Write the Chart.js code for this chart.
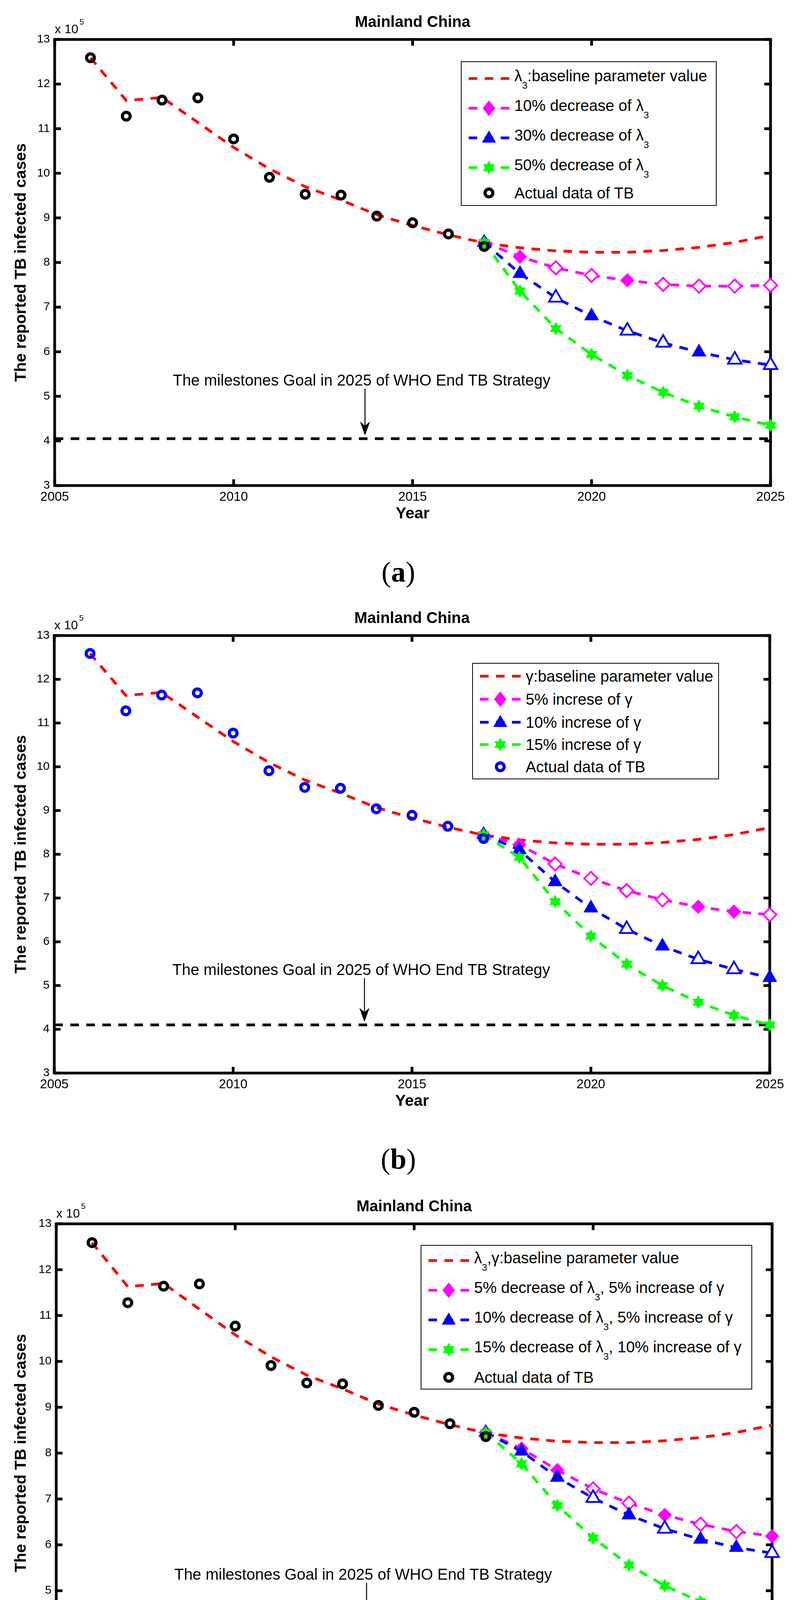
<!DOCTYPE html>
<html lang="en">
<head>
<meta charset="UTF-8">
<title>Mainland China - TB infected cases</title>
<script src="https://cdn.jsdelivr.net/npm/chart.js"></script>
<style>
  html, body { margin: 0; padding: 0; background: #fff; }
  body { position: relative; width: 2051px; height: 4610px; overflow: hidden;
         font-family: "Liberation Sans", Arial, Helvetica, sans-serif; color: #000; }
  .panel { position: absolute; left: 0; width: 2051px; height: 1400px; }
  .legend { position: absolute; background: #fff; border: 2px solid #000; box-sizing: border-box; }
  .legend svg { position: absolute; overflow: visible; }
  .legend .txt { position: absolute; white-space: nowrap; font-size: 40px; line-height: 40px; }
  .legend sub { font-size: 24px; vertical-align: -19px; line-height: 0; }
  .caption { position: absolute; width: 300px; text-align: center;
             font-family: "Liberation Serif", "Times New Roman", serif; font-size: 74px; line-height: 74px; }
</style>
</head>
<body>
  <div class="panel" id="panelA"><canvas></canvas></div>
  <div class="panel" id="panelB"><canvas></canvas></div>
  <div class="panel" id="panelC"><canvas></canvas></div>
  <div class="caption" style="left:870px; top:1427px">(<b>a</b>)</div>
  <div class="caption" style="left:870px; top:2930px">(<b>b</b>)</div>
  <div class="caption" style="left:870px; top:4490px">(<b>c</b>)</div>

<script>
// ---- data (values x 10^5) ----
const YEARS_ACTUAL = [2006, 2007, 2008, 2009, 2010, 2011, 2012, 2013, 2014, 2015, 2016, 2017];
const YEARS_MODEL  = [2006, 2007, 2008, 2009, 2010, 2011, 2012, 2013, 2014, 2015,
                      2016, 2017, 2018, 2019, 2020, 2021, 2022, 2023, 2024, 2025];
const YEARS_PROJ   = [2017, 2018, 2019, 2020, 2021, 2022, 2023, 2024, 2025];

const ACTUAL_TB = [12.59, 11.28, 11.64, 11.69, 10.77, 9.91, 9.53, 9.51, 9.04, 8.89, 8.64, 8.36];
const BASELINE  = [12.59, 11.63, 11.70, 11.14, 10.58, 10.10, 9.70, 9.40, 9.07, 8.83,
                   8.62, 8.44, 8.33, 8.26, 8.23, 8.23, 8.27, 8.34, 8.45, 8.61];

// (a) decrease of lambda3
const A_DEC10 = [8.45, 8.13, 7.88, 7.71, 7.60, 7.51, 7.47, 7.47, 7.49];
const A_DEC30 = [8.45, 7.75, 7.21, 6.80, 6.47, 6.20, 5.99, 5.82, 5.70];
const A_DEC50 = [8.45, 7.36, 6.52, 5.94, 5.47, 5.09, 4.78, 4.54, 4.35];
// (b) increase of gamma
const B_INC5  = [8.45, 8.22, 7.78, 7.45, 7.17, 6.96, 6.80, 6.69, 6.62];
const B_INC10 = [8.45, 8.10, 7.37, 6.77, 6.29, 5.90, 5.60, 5.37, 5.18];
const B_INC15 = [8.45, 7.93, 6.92, 6.13, 5.49, 5.00, 4.62, 4.32, 4.10];
// (c) combined
const C_MIX1 = [8.45, 8.10, 7.63, 7.22, 6.91, 6.65, 6.45, 6.29, 6.19];
const C_MIX2 = [8.45, 8.04, 7.47, 7.02, 6.65, 6.35, 6.12, 5.94, 5.82];
const C_MIX3 = [8.45, 7.77, 6.86, 6.15, 5.56, 5.11, 4.76, 4.48, 4.28];

// WHO End TB milestone line, one per panel
const GOAL_A = 4.05;
const GOAL_B = 4.10;
const GOAL_C = 4.14;

// axis ranges
const X_MIN = 2005, X_MAX = 2025, X_STEP = 5;
const Y_MIN = 3, Y_MAX = 13, Y_STEP = 1;

// legend texts
const LEGEND_A = ['&lambda;<sub>3</sub>:baseline parameter value', '10% decrease of &lambda;<sub>3</sub>',
                  '30% decrease of &lambda;<sub>3</sub>', '50% decrease of &lambda;<sub>3</sub>', 'Actual data of TB'];
const LEGEND_B = ['&gamma;:baseline parameter value', '5% increse of &gamma;', '10% increse of &gamma;',
                  '15% increse of &gamma;', 'Actual data of TB'];
const LEGEND_C = ['&lambda;<sub>3</sub>,&gamma;:baseline parameter value',
                  '5% decrease of &lambda;<sub>3</sub>, 5% increase of &gamma;',
                  '10% decrease of &lambda;<sub>3</sub>, 5% increase of &gamma;',
                  '15% decrease of &lambda;<sub>3</sub>, 10% increase of &gamma;', 'Actual data of TB'];

// annotation text + arrow (data units)
const NOTE_TEXT = 'The milestones Goal in 2025 of WHO End TB Strategy';
const NOTE_X = 2008.3, NOTE_Y = 5.24;
const ARROW_X = 2013.67, ARROW_TOP = 5.17;

// which projected markers look hollow in the picture (1 = open)
const OPEN_A_DIAMOND = [0, 0, 1, 1, 0, 1, 1, 1, 1];
const OPEN_A_TRI     = [0, 0, 1, 0, 1, 1, 0, 1, 1];
const OPEN_B_DIAMOND = [0, 0, 1, 1, 1, 1, 0, 0, 1];
const OPEN_B_TRI     = [0, 0, 0, 0, 1, 0, 1, 1, 0];
const OPEN_C_DIAMOND = [0, 0, 0, 1, 1, 0, 1, 1, 0];
const OPEN_C_TRI     = [0, 0, 0, 1, 0, 1, 0, 0, 1];

// ---- styling ----
const FONT = "'Liberation Sans', Arial, Helvetica, sans-serif";
const RED = '#ff0000', MAGENTA = '#ff00ff', BLUE = '#0000ff', GREEN = '#00ff00', BLACK = '#000000';
const PAGE_W = 2051;
const CANVAS_H = 1400;
const TOP_SPACE = 101;   // room above the axes box (title, x10^5)
const DASH = [22, 19];
const TICK_LEN = 16;

Chart.defaults.font.family = FONT;
Chart.defaults.color = BLACK;

function xy(xs, ys) {
    return xs.map((x, i) => ({ x: x, y: ys[i] }));
}

// six pointed star marker (matlab 'hexagram')
function hexagram(color, R) {
    const size = Math.ceil(2 * R + 4);
    const c = document.createElement('canvas');
    c.width = c.height = size;
    const g = c.getContext('2d');
    g.fillStyle = color;
    [-90, 90].forEach(start => {
        g.beginPath();
        for (let k = 0; k < 3; k++) {
            const a = (start + k * 120) * Math.PI / 180;
            const px = size / 2 + R * Math.cos(a), py = size / 2 + R * Math.sin(a);
            if (k === 0) g.moveTo(px, py); else g.lineTo(px, py);
        }
        g.closePath();
        g.fill();
    });
    return c;
}
const STAR_IMG = hexagram(GREEN, 17.5);

// frame with inward ticks, x10^5 label, goal annotation
const matlabFrame = {
    id: 'matlabFrame',
    beforeDatasetsDraw(chart) {
        const { ctx, chartArea: a, scales: { x, y } } = chart;
        ctx.save();
        ctx.strokeStyle = BLACK;
        ctx.lineWidth = 7;
        ctx.strokeRect(a.left, a.top, a.right - a.left, a.bottom - a.top);
        ctx.beginPath();
        y.ticks.forEach(t => {
            const py = y.getPixelForValue(t.value);
            ctx.moveTo(a.left, py);  ctx.lineTo(a.left + TICK_LEN, py);
            ctx.moveTo(a.right, py); ctx.lineTo(a.right - TICK_LEN, py);
        });
        x.ticks.forEach(t => {
            const px = x.getPixelForValue(t.value);
            ctx.moveTo(px, a.bottom); ctx.lineTo(px, a.bottom - TICK_LEN);
            ctx.moveTo(px, a.top);    ctx.lineTo(px, a.top + TICK_LEN);
        });
        ctx.stroke();
        ctx.restore();
    },
    afterDatasetsDraw(chart, args, opts) {
        const { ctx, chartArea: a, scales: { x, y } } = chart;
        ctx.save();
        ctx.fillStyle = BLACK;
        ctx.textAlign = 'left';
        ctx.textBaseline = 'alphabetic';

        // exponent above the y axis
        ctx.font = '32px ' + FONT;
        ctx.fillText('x 10', a.left, a.top - 16);
        const w = ctx.measureText('x 10').width;
        ctx.font = '21px ' + FONT;
        ctx.fillText('5', a.left + w + 3, a.top - 38);

        // annotation
        ctx.font = '40px ' + FONT;
        ctx.fillText(NOTE_TEXT, x.getPixelForValue(NOTE_X), y.getPixelForValue(NOTE_Y));

        const ax = x.getPixelForValue(ARROW_X);
        const y0 = y.getPixelForValue(ARROW_TOP);
        const tip = y.getPixelForValue(opts.goal + 0.07);
        ctx.strokeStyle = BLACK;
        ctx.lineWidth = 2.5;
        ctx.beginPath();
        ctx.moveTo(ax, y0);
        ctx.lineTo(ax, tip - 20);
        ctx.stroke();
        ctx.beginPath();
        ctx.moveTo(ax, tip);
        ctx.lineTo(ax - 13, tip - 36);
        ctx.lineTo(ax, tip - 25);
        ctx.lineTo(ax + 13, tip - 36);
        ctx.closePath();
        ctx.fill();
        ctx.restore();
    }
};

// legend marker in svg
function markerSvg(kind, color, cx, cy) {
    if (kind === 'diamond')
        return `<polygon points="${cx-16},${cy} ${cx},${cy-20} ${cx+16},${cy} ${cx},${cy+20}" fill="${color}"/>`;
    if (kind === 'triangle')
        return `<polygon points="${cx},${cy-19} ${cx+18},${cy+12} ${cx-18},${cy+12}" fill="${color}"/>`;
    if (kind === 'star') {
        const pts = s => [0, 1, 2].map(k => {
            const a = (s + k * 120) * Math.PI / 180;
            return (cx + 17.5 * Math.cos(a)).toFixed(1) + ',' + (cy + 17.5 * Math.sin(a)).toFixed(1);
        }).join(' ');
        return `<polygon points="${pts(-90)}" fill="${color}"/><polygon points="${pts(90)}" fill="${color}"/>`;
    }
    if (kind === 'circle')
        return `<circle cx="${cx}" cy="${cy}" r="10" fill="none" stroke="${color}" stroke-width="8"/>`;
    return '';
}

function buildLegend(box, labels, rows) {
    const div = document.createElement('div');
    div.className = 'legend';
    div.style.left = box.left + 'px';
    div.style.top = box.top + 'px';
    div.style.width = box.width + 'px';
    div.style.height = box.height + 'px';
    let html = '';
    rows.forEach((r, i) => {
        const cy = box.rows[i];
        let inner = '';
        if (r.line) inner += `<line x1="20" y1="30" x2="124" y2="30" stroke="${r.color}" stroke-width="7" stroke-dasharray="${DASH.join(' ')}"/>`;
        inner += markerSvg(r.marker, r.color, 72, 30);
        html += `<svg width="130" height="60" style="left:-2px; top:${cy - 32}px">${inner}</svg>`;
        const baseOff = labels[i].indexOf('<sub>') >= 0 ? 7 : 14;
        html += `<span class="txt" style="left:135px; top:${cy + baseOff - 36}px">${labels[i]}</span>`;
    });
    div.innerHTML = html;
    document.body.appendChild(div);
}

function makePanel(p) {
    const canvasTop = p.plotTop - TOP_SPACE;
    const holder = document.getElementById(p.id);
    holder.style.top = canvasTop + 'px';
    const bottomRel = p.plotBottom - canvasTop;
    const xAxisH = CANVAS_H - bottomRel;
    const yearPad = CANVAS_H - (bottomRel + 73) - 41 * 1.2 / 2;

    const marker = (color, style, radius, open) => ({
        pointStyle: style,
        pointRadius: radius,
        pointBorderColor: color,
        pointBackgroundColor: open.map(o => o ? '#ffffff' : color),
        pointBorderWidth: open.map(o => o ? 4.5 : 2)
    });
    const lineBase = { borderWidth: 7, borderDash: DASH, fill: false, tension: 0, clip: false };

    const datasets = [
        Object.assign({ label: 'goal', data: xy([X_MIN, X_MAX], [p.goal, p.goal]),
            borderColor: BLACK, pointRadius: 0, order: 6 }, lineBase),
        Object.assign({ label: p.labels[0], data: xy(YEARS_MODEL, BASELINE),
            borderColor: RED, pointRadius: 0, order: 5 }, lineBase),
        Object.assign({ label: p.labels[1], data: xy(YEARS_PROJ, p.s1), borderColor: MAGENTA, order: 4 },
            lineBase, marker(MAGENTA, 'rectRot', 17, p.open1)),
        Object.assign({ label: p.labels[2], data: xy(YEARS_PROJ, p.s2), borderColor: BLUE, order: 3 },
            lineBase, marker(BLUE, 'triangle', 20, p.open2)),
        Object.assign({ label: p.labels[3], data: xy(YEARS_PROJ, p.s3), borderColor: GREEN, order: 2,
            pointStyle: STAR_IMG, pointRadius: 18 }, lineBase),
        { label: p.labels[4], data: xy(YEARS_ACTUAL, ACTUAL_TB), showLine: false, order: 1, clip: false,
          pointStyle: 'circle', pointRadius: 10, pointBorderWidth: 8,
          pointBorderColor: p.actualColor, pointBackgroundColor: 'rgba(0,0,0,0)' }
    ];

    new Chart(holder.querySelector('canvas'), {
        type: 'line',
        data: { datasets: datasets },
        options: {
            responsive: true,
            maintainAspectRatio: false,
            animation: false,
            devicePixelRatio: 1,
            events: [],
            layout: { padding: { left: 0, top: 0, right: PAGE_W - p.plotRight, bottom: 0 } },
            plugins: {
                legend: { display: false },
                tooltip: { enabled: false },
                title: {
                    display: true, text: 'Mainland China', fullSize: false, color: BLACK,
                    font: { size: 40, weight: 'bold' }, padding: { top: 34, bottom: 19 }
                },
                matlabFrame: { goal: p.goal }
            },
            scales: {
                x: {
                    type: 'linear', min: X_MIN, max: X_MAX,
                    ticks: { stepSize: X_STEP, padding: 10, maxRotation: 0, autoSkip: false,
                             font: { size: 33 }, color: BLACK, callback: v => String(v) },
                    grid: { display: false, drawTicks: false },
                    border: { display: false },
                    title: { display: true, text: 'Year', color: BLACK,
                             font: { size: 41, weight: 'bold' }, padding: { top: 0, bottom: yearPad } },
                    afterFit: s => { s.height = xAxisH; }
                },
                y: {
                    type: 'linear', min: Y_MIN, max: Y_MAX,
                    ticks: { stepSize: Y_STEP, padding: 12, font: { size: 30 }, color: BLACK },
                    grid: { display: false, drawTicks: false },
                    border: { display: false },
                    title: { display: true, text: 'The reported TB infected cases', color: BLACK,
                             font: { size: 41, weight: 'bold' }, padding: { top: 30, bottom: 0 } },
                    afterFit: s => { s.width = p.plotLeft; }
                }
            }
        },
        plugins: [matlabFrame]
    });

    buildLegend(p.legendBox, p.legendHtml, [
        { color: RED, marker: 'none', line: true },
        { color: MAGENTA, marker: 'diamond', line: true },
        { color: BLUE, marker: 'triangle', line: true },
        { color: GREEN, marker: 'star', line: true },
        { color: p.actualColor, marker: 'circle', line: false }
    ]);
}

const plain = s => s.replace(/<\/?sub>/g, '').replace('&lambda;', 'λ').replace(/&gamma;/g, 'γ').replace(/&lambda;/g, 'λ');

document.addEventListener('DOMContentLoaded', function () {
    makePanel({
        id: 'panelA', plotTop: 101, plotBottom: 1243, plotLeft: 140, plotRight: 1973,
        goal: GOAL_A, s1: A_DEC10, s2: A_DEC30, s3: A_DEC50,
        open1: OPEN_A_DIAMOND, open2: OPEN_A_TRI, actualColor: BLACK,
        labels: LEGEND_A.map(plain), legendHtml: LEGEND_A,
        legendBox: { left: 1180, top: 157, width: 655, height: 370, rows: [44, 120, 196, 272, 337] }
    });
    makePanel({
        id: 'panelB', plotTop: 1627, plotBottom: 2747, plotLeft: 139, plotRight: 1971,
        goal: GOAL_B, s1: B_INC5, s2: B_INC10, s3: B_INC15,
        open1: OPEN_B_DIAMOND, open2: OPEN_B_TRI, actualColor: BLUE,
        labels: LEGEND_B.map(plain), legendHtml: LEGEND_B,
        legendBox: { left: 1209, top: 1697, width: 632, height: 298, rows: [34, 93, 152, 209, 266] }
    });
    makePanel({
        id: 'panelC', plotTop: 3133, plotBottom: 4307, plotLeft: 144, plotRight: 1977,
        goal: GOAL_C, s1: C_MIX1, s2: C_MIX2, s3: C_MIX3,
        open1: OPEN_C_DIAMOND, open2: OPEN_C_TRI, actualColor: BLACK,
        labels: LEGEND_C.map(plain), legendHtml: LEGEND_C,
        legendBox: { left: 1077, top: 3187, width: 849, height: 370, rows: [40, 116, 192, 268, 339] }
    });
});
</script>
</body>
</html>
